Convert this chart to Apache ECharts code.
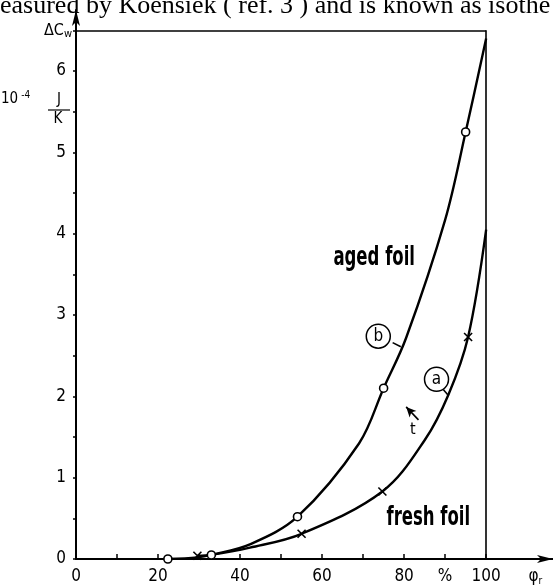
<!DOCTYPE html>
<html>
<head>
<meta charset="utf-8">
<style>
  html, body { margin: 0; padding: 0; background: #fff; }
  #chart { width: 553px; height: 588px; }
</style>
</head>
<body>
<div id="chart"></div>
<script src="https://cdn.jsdelivr.net/npm/echarts@6/dist/echarts.min.js"></script>
<script type="text/javascript">
// measured points, curve b (aged foil, circles)
var agedX = [22.4, 33, 54, 75, 95];
var agedY = [0, 0.05, 0.52, 2.1, 5.25];
// measured points, curve a (fresh foil, crosses)
var freshX = [29.6, 55, 74.7, 95.6];
var freshY = [0.04, 0.31, 0.83, 2.73];
// points
var curveBX = [22.4, 29.6, 33, 42.4, 54, 69, 75, 80.5, 90, 95, 100];
var curveBY = [0, 0.02, 0.05, 0.18, 0.52, 1.42, 2.1, 2.72, 4.17, 5.25, 6.4];
var curveAX = [29.6, 33, 42.4, 55, 74.7, 85, 90.8, 95.6, 100];
var curveAY = [0.04, 0.05, 0.14, 0.31, 0.83, 1.46, 2.02, 2.73, 4.05];
// ticks and labels
var xTicks = [0, 10, 20, 30, 40, 50, 60, 70, 80, 90, 100];
var xLabelVals = [0, 20, 40, 60, 80, 90, 100, 112];
var xLabelText = ['0', '20', '40', '60', '80', '%', '100', '{phi|φ}{sub|r}'];
var yTicks = [0, 0.5, 1, 1.5, 2, 2.5, 3, 3.5, 4, 4.5, 5, 5.5, 6, 6.5];
var yLabelVals = [0, 1, 2, 3, 4, 5, 6];
// free text in the plot: [x, y, text, size]
var notes = [
  [72.7, 3.7, 'aged foil', 27],
  [85.9, 0.5, 'fresh foil', 27]
];

var FONT = "'DejaVu Sans Condensed', 'DejaVu Sans', sans-serif";
var HAND = "'DejaVu Sans Condensed', 'DejaVu Sans', sans-serif";

function zip(xs, ys) {
  var out = [];
  for (var i = 0; i < xs.length; i++) out.push([xs[i], ys[i]]);
  return out;
}

var chart = echarts.init(document.getElementById('chart'));

var option = {
  backgroundColor: '#fff',
  animation: false,
  grid: { left: 76, right: 0, top: 10, bottom: 29 },
  xAxis: {
    type: 'value', min: 0, max: 116.3,
    splitLine: { show: false },
    axisLine: { lineStyle: { color: '#000', width: 2 }, symbol: ['none', 'arrow'], symbolSize: [6, 16] },
    axisTick: { inside: true, length: 5, customValues: xTicks, lineStyle: { color: '#000', width: 1.5 } },
    axisLabel: {
      customValues: xLabelVals, margin: 9, color: '#000', fontFamily: FONT, fontSize: 17,
      formatter: function (v) { return xLabelText[xLabelVals.indexOf(v)] || ''; },
      rich: {
        phi: { fontFamily: FONT, fontSize: 17, color: '#000' },
        sub: { fontFamily: FONT, fontSize: 10, color: '#000', verticalAlign: 'bottom', padding: [8, 0, 0, 0] }
      }
    }
  },
  yAxis: {
    type: 'value', min: 0, max: 6.75,
    splitLine: { show: false },
    axisLine: { lineStyle: { color: '#000', width: 2 }, symbol: ['none', 'arrow'], symbolSize: [6, 16] },
    axisTick: { length: 3, customValues: yTicks, lineStyle: { color: '#000', width: 1.5 } },
    axisLabel: { customValues: yLabelVals, margin: 10, color: '#000', fontFamily: FONT, fontSize: 17 }
  },
  graphic: [
    { type: 'text', x: 0, y: 19, style: { text: 'easured by Koensiek ( ref. 3 ) and is known as isothe', verticalAlign: 'bottom', font: "26px 'Liberation Serif', serif", fill: '#000' } },
    { type: 'text', x: 72, y: 31, style: { text: '{d|ΔC}{w|w}', align: 'right', verticalAlign: 'middle',
        rich: { d: { fontFamily: FONT, fontSize: 16, fill: '#000' }, w: { fontFamily: FONT, fontSize: 11, fill: '#000', padding: [6, 0, 0, 0] } } } },
    { type: 'text', x: 1, y: 108, style: { text: '{n|10}{e|-4}', verticalAlign: 'bottom',
        rich: { n: { fontFamily: FONT, fontSize: 15, fill: '#000' }, e: { fontFamily: FONT, fontSize: 10, fill: '#000', padding: [0, 0, 8, 3] } } } },
    { type: 'text', x: 59, y: 108, style: { text: 'J', align: 'center', verticalAlign: 'bottom', font: '15px ' + FONT, fill: '#000' } },
    { type: 'line', shape: { x1: 48, y1: 110, x2: 70, y2: 110 }, style: { stroke: '#000', lineWidth: 1.2 } },
    { type: 'text', x: 58, y: 112, style: { text: 'K', align: 'center', verticalAlign: 'top', font: '15px ' + FONT, fill: '#000' } }
  ],
  series: [
    {
      name: 'aged foil curve', type: 'line', data: zip(curveBX, curveBY),
      smooth: 0.35, showSymbol: false,
      lineStyle: { color: '#000', width: 2.4 }, z: 2,
      markLine: {
        silent: true, symbol: 'none', animation: false,
        lineStyle: { color: '#000', width: 1.6, type: 'solid' }, label: { show: false },
        data: [
          [{ coord: [0, 6.5] }, { coord: [100, 6.5] }],
          [{ coord: [100, 0] }, { coord: [100, 6.5] }],
          [{ coord: [77.2, 2.66] }, { coord: [79.2, 2.61] }],
          [{ coord: [89.6, 2.08] }, { coord: [90.8, 2.01] }],
          [{ coord: [83.5, 1.71], symbol: 'none' }, { coord: [80.5, 1.87], symbol: 'arrow', symbolSize: [7, 10] }]
        ]
      },
      markPoint: {
        silent: true, animation: false,
        data: [
          { coord: [73.7, 2.74], symbol: 'circle', symbolSize: 24, itemStyle: { color: '#fff', borderColor: '#000', borderWidth: 1.5 },
            label: { show: true, position: 'inside', formatter: 'b', color: '#000', fontFamily: FONT, fontSize: 17 } },
          { coord: [87.9, 2.21], symbol: 'circle', symbolSize: 24, itemStyle: { color: '#fff', borderColor: '#000', borderWidth: 1.5 },
            label: { show: true, position: 'inside', formatter: 'a', color: '#000', fontFamily: FONT, fontSize: 17 } },
          { coord: [82.1, 1.59], symbol: 'circle', symbolSize: 1, itemStyle: { color: 'transparent' },
            label: { show: true, position: 'inside', formatter: 't', color: '#000', fontFamily: FONT, fontSize: 16 } }
        ]
      }
    },
    {
      name: 'fresh foil curve', type: 'line', data: zip(curveAX, curveAY),
      smooth: 0.35, showSymbol: false,
      lineStyle: { color: '#000', width: 2.4 }, z: 2
    },
    {
      name: 'aged foil', type: 'scatter', data: zip(agedX, agedY),
      symbol: 'circle', symbolSize: 8, z: 3,
      itemStyle: { color: '#fff', borderColor: '#000', borderWidth: 1.6, opacity: 1 }
    },
    {
      name: 'fresh foil', type: 'scatter', data: zip(freshX, freshY),
      symbol: 'path://M0,0L10,10M10,0L0,10', symbolSize: 8, z: 3,
      itemStyle: { color: 'transparent', borderColor: '#000', borderWidth: 1.6, opacity: 1 }
    }
  ]
};

chart.setOption(option);

// hand lettered notes: narrow tall text placed at data coordinates
var noteGraphics = notes.map(function (n) {
  var p = chart.convertToPixel({ gridIndex: 0 }, [n[0], n[1]]);
  return {
    type: 'text', x: p[0], y: p[1], scaleX: 0.68,
    style: { text: n[2], align: 'center', verticalAlign: 'middle', font: 'bold ' + n[3] + 'px ' + HAND, fill: '#000' }
  };
});
chart.setOption({ graphic: option.graphic.concat(noteGraphics) });
</script>
</body>
</html>
